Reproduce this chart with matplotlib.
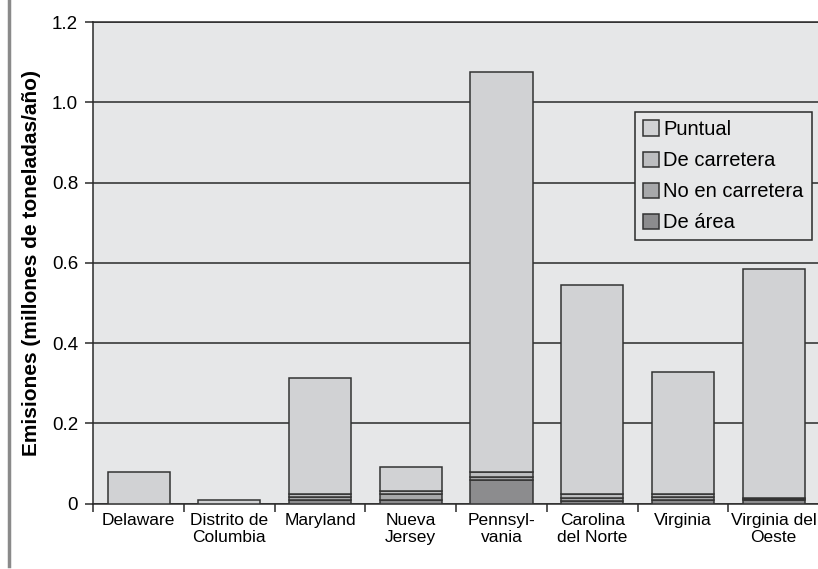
import matplotlib
matplotlib.use("Agg")
import matplotlib.pyplot as plt
from matplotlib.lines import Line2D
from matplotlib.ticker import FuncFormatter
import numpy as np

plt.rcParams['font.family'] = ['Liberation Sans', 'DejaVu Sans']

states = ["Delaware", "Distrito de\nColumbia", "Maryland", "Nueva\nJersey",
          "Pennsyl-\nvania", "Carolina\ndel Norte", "Virginia", "Virginia del\nOeste"]

# emissions by source type, millions of tons per year
de_area = [0.0, 0.0, 0.009, 0.009, 0.059, 0.007, 0.009, 0.008]
no_en_carretera = [0.0, 0.0, 0.007, 0.015, 0.007, 0.008, 0.007, 0.003]
de_carretera = [0.0, 0.0, 0.007, 0.007, 0.012, 0.008, 0.008, 0.002]
puntual = [0.079, 0.010, 0.289, 0.060, 0.997, 0.521, 0.303, 0.571]

series = [
    ("De área", de_area, "#8c8c8e"),
    ("No en carretera", no_en_carretera, "#a7a8aa"),
    ("De carretera", de_carretera, "#bdbec0"),
    ("Puntual", puntual, "#d1d2d4"),
]

fig = plt.figure(figsize=(8.18, 5.69), dpi=100)
ax = fig.add_axes([0.1141, 0.1149, 0.8871, 0.8464])
ax.set_facecolor("#e6e7e8")

x = np.arange(len(states))
bottom = np.zeros(len(states))
handles = {}
for name, vals, color in series:
    vals = np.array(vals)
    bars = ax.bar(x, vals, width=0.684, bottom=bottom, color=color,
                  edgecolor="#333333", linewidth=1.1, label=name, zorder=3)
    handles[name] = bars
    bottom += vals

ax.set_xlim(-0.5, len(states) - 0.5)
ax.set_ylim(0, 1.2)
ax.set_yticks(np.arange(0, 1.21, 0.2))
ax.yaxis.set_major_formatter(FuncFormatter(lambda v, p: "0" if abs(v) < 1e-9 else f"{v:.1f}"))
ax.yaxis.grid(True, color="#2a2a2a", linewidth=1.1, zorder=1)
ax.set_axisbelow(True)

ax.set_xticks(np.arange(-0.5, len(states), 1.0))
ax.set_xticklabels([])
ax.set_xticks(x, minor=True)
ax.set_xticklabels(states, minor=True, fontsize=12.5, linespacing=1.15)
ax.tick_params(axis="x", which="minor", length=0, pad=7)
ax.tick_params(axis="x", which="major", length=6, width=1.1, color="#2a2a2a")
ax.tick_params(axis="y", length=6, width=1.1, color="#2a2a2a", labelsize=13.5, pad=5)

ax.spines["right"].set_visible(False)
for s in ("top", "left", "bottom"):
    ax.spines[s].set_color("#2a2a2a")
    ax.spines[s].set_linewidth(1.1)

ax.set_ylabel("Emisiones (millones de toneladas/año)", fontsize=15,
              fontweight="bold", labelpad=8)

order = ["Puntual", "De carretera", "No en carretera", "De área"]
leg = ax.legend([handles[n] for n in order], order, loc="upper right",
                bbox_to_anchor=(0.990, 0.813), fontsize=14.5, frameon=True,
                fancybox=False, edgecolor="#2a2a2a", facecolor="#e6e7e8",
                framealpha=1, handlelength=0.8, handleheight=0.8,
                handletextpad=0.2, labelspacing=0.6, borderpad=0.4,
                borderaxespad=0)
leg.get_frame().set_linewidth(1.1)
leg.set_zorder(5)

# thin gray rule along the left edge of the page
fig.add_artist(Line2D([0.0105, 0.0105], [0.006, 1.0], transform=fig.transFigure,
                      color="#8a8a8a", linewidth=2.5))

fig.savefig("out.png", dpi=100)
